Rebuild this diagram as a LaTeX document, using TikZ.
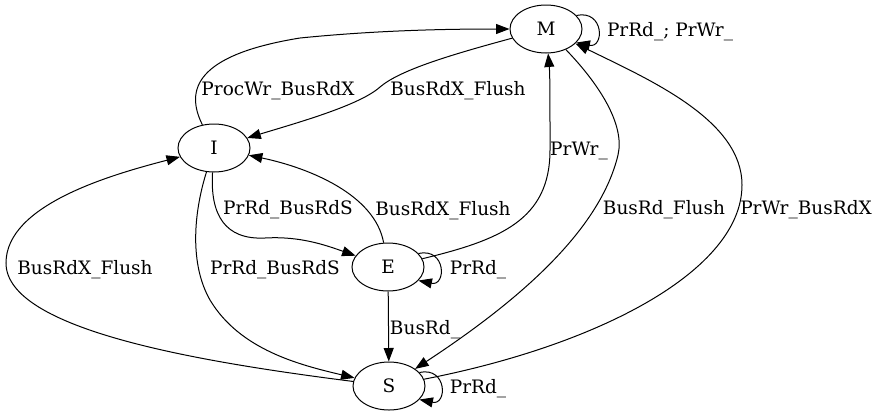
\documentclass[tikz,border=0pt]{standalone}
\usepackage{fontspec}
\setmainfont{DejaVu Serif}
\usetikzlibrary{arrows.meta,shapes.geometric}
\begin{document}
\begin{tikzpicture}[x=1pt,y=-1pt,
 st/.style={ellipse,draw,line width=1pt,minimum width=72pt,minimum height=48pt,inner sep=0pt,font=\fontsize{18.5}{20}\selectfont},
 lbl/.style={inner sep=0pt,anchor=base,font=\fontsize{18.5}{20}\selectfont},
 arr/.style={draw,line width=1pt,-{Triangle[length=13.5pt,width=10pt]}}]
\useasboundingbox[fill=white] (0,0) rectangle (878,416);
% states
\node[st] (M) at (546,29) {M};
\node[st] (I) at (214,148) {I};
\node[st] (E) at (388,267) {E};
\node[st] (S) at (389,386) {S};
% labels
\node[lbl] (lProc) at (278,95) {ProcWr\_BusRdX};
\node[lbl] (lMI) at (458,95) {BusRdX\_Flush};
\node[lbl] (lEM) at (579,155) {PrWr\_};
\node[lbl] (lEI) at (443,215) {BusRdX\_Flush};
\node[lbl] (lIE) at (288,214) {PrRd\_BusRdS};
\node[lbl] (lMS) at (664,214) {BusRd\_Flush};
\node[lbl] (lSM) at (806,214) {PrWr\_BusRdX};
\node[lbl] (lSI) at (85,274) {BusRdX\_Flush};
\node[lbl] (lIS) at (275,274) {PrRd\_BusRdS};
\node[lbl] (lEE) at (478,274) {PrRd\_};
\node[lbl] (lES) at (425,334) {BusRd\_};
\node[lbl] (lSS) at (478,393) {PrRd\_};
\node[lbl] (lMM) at (670,36) {PrRd\_; PrWr\_};
% edges
\path[arr] (I) .. controls (185,90) and (195,55) .. (300,38) .. controls (380,30) and (450,29) .. (M);
\path[arr] (M) .. controls (450,55) and (400,70) .. (380,87) .. controls (360,105) and (300,122) .. (I);
\path[arr] (E) .. controls (375,195) and (310,168) .. (I);
\path[arr] (I) .. controls (210,215) and (225,240) .. (265,238) .. controls (300,236) and (325,245) .. (E);
\path[arr] (I) .. controls (193,215) and (190,265) .. (210,300) .. controls (240,350) and (300,365) .. (S);
\path[arr] (S) .. controls (200,362) and (6,330) .. (6,263) .. controls (6,205) and (110,175) .. (I);
\path[arr] (E) -- (S);
\path[arr] (E) .. controls (500,240) and (550,220) .. (550,150) .. controls (550,100) and (550,75) .. (M);
\path[arr] (M) .. controls (600,85) and (625,125) .. (618,155) .. controls (600,230) and (520,300) .. (S);
\path[arr] (S) .. controls (600,345) and (742,270) .. (742,185) .. controls (742,120) and (650,80) .. (M);
% self loops
\path[arr] (M.24) .. controls +(28,-6) and +(28,6) .. (M.-24);
\path[arr] (E.24) .. controls +(28,-6) and +(28,6) .. (E.-24);
\path[arr] (S.24) .. controls +(28,-6) and +(28,6) .. (S.-24);
\end{tikzpicture}
\end{document}
